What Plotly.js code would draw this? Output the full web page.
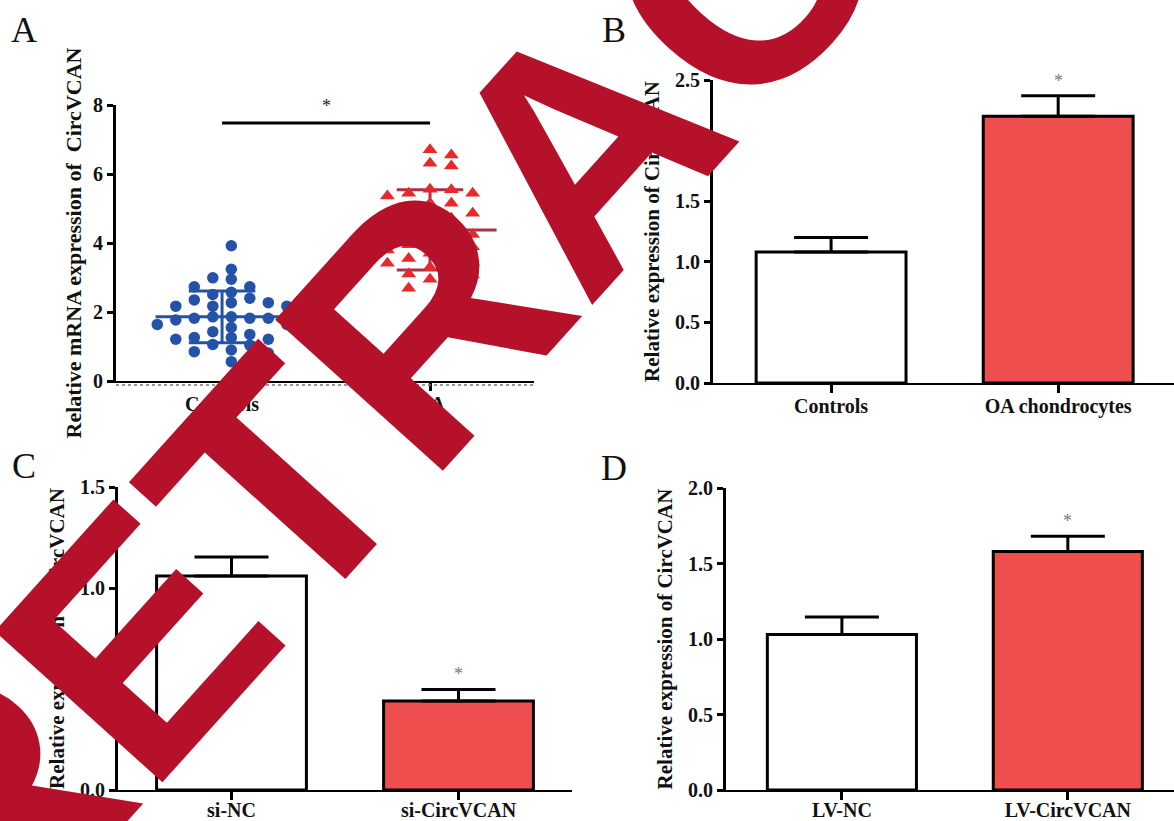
<!DOCTYPE html>
<html><head><meta charset="utf-8">
<script src="https://cdn.plot.ly/plotly-3.0.1.min.js"></script>
<style>html,body{margin:0;padding:0;background:#fff}#chart{width:1174px;height:821px}</style>
</head><body><div id="chart"></div>
<script>
// ---------- Panel A: scatter dot plot ----------
const groupsA = ['Controls', 'OA'];
const controlsA = [3.92, 3.24, 2.99, 2.95, 2.73, 2.73, 2.57, 2.51, 2.40, 2.35, 2.27, 2.27, 2.17, 2.17, 2.17,
  1.86, 1.86, 1.82, 1.82, 1.82, 1.77, 1.64, 1.64, 1.55, 1.43, 1.35, 1.26, 1.26, 1.21, 1.21,
  1.06, 1.04, 0.90, 0.85, 0.81, 0.56];
const oaA = [6.70, 6.55, 6.31, 6.23, 5.56, 5.54, 5.44, 5.44, 5.36, 5.15, 5.15, 4.91, 4.86, 4.72, 4.72,
  4.55, 4.40, 4.38, 4.25, 4.10, 4.00, 3.95, 3.89, 3.80, 3.70, 3.60, 3.55, 3.45, 3.41, 3.30,
  3.20, 3.10, 3.07, 2.95, 2.80, 2.69];
const meanA = [1.86, 4.38];
const sdA = [0.75, 1.16];
const sigLevelA = 7.48;

// ---------- Panel B ----------
const catsB = ['Controls', 'OA chondrocytes'];
const valsB = [1.08, 2.20];
const errB = [0.12, 0.17];

// ---------- Panel C ----------
const catsC = ['si-NC', 'si-CircVCAN'];
const valsC = [1.06, 0.44];
const errC = [0.094, 0.058];

// ---------- Panel D ----------
const catsD = ['LV-NC', 'LV-CircVCAN'];
const valsD = [1.03, 1.58];
const errD = [0.115, 0.10];

const W = 1174, H = 821;
const RED = '#EE4E4E', BLUE = '#2352A8', TRI = '#E8292B', DARKRED = '#A8324A', WM = '#B5112B';
const serif = 'Liberation Serif, Times New Roman, serif';

// Beeswarm: place points into columns nearest the centre without vertical overlap
function swarmX(vals, center, colW, phase, minDy) {
  const cand = [];
  for (let i = -8; i <= 8; i++) cand.push(phase + i);
  cand.sort((a, b) => Math.abs(a) - Math.abs(b) || b - a);
  const used = {};
  const order = vals.map((v, i) => i).sort((a, b) => vals[b] - vals[a]);
  const xs = new Array(vals.length);
  order.forEach(i => {
    const v = vals[i];
    for (const c of cand) {
      const key = c.toFixed(2);
      const list = used[key] || (used[key] = []);
      if (list.every(y => Math.abs(y - v) >= minDy)) { list.push(v); xs[i] = center + c * colW; break; }
    }
  });
  return xs;
}

const traces = [];
// mean +/- SD lines for panel A
const lineCol = [BLUE, DARKRED];
[0, 1].forEach(g => {
  const m = meanA[g], s = sdA[g];
  traces.push({
    type: 'scatter', mode: 'lines', xaxis: 'x', yaxis: 'y', hoverinfo: 'skip', showlegend: false,
    x: [g - 0.32, g + 0.32, null, g - 0.16, g + 0.16, null, g - 0.16, g + 0.16, null, g, g],
    y: [m, m, null, m + s, m + s, null, m - s, m - s, null, m - s, m + s],
    line: {color: lineCol[g], width: 3}
  });
});
traces.push({
  type: 'scatter', mode: 'markers', xaxis: 'x', yaxis: 'y', showlegend: false, name: groupsA[0],
  x: swarmX(controlsA, 0, 0.089, 0.5, 0.29), y: controlsA,
  marker: {symbol: 'circle', size: 11.5, color: BLUE}
});
traces.push({
  type: 'scatter', mode: 'markers', xaxis: 'x', yaxis: 'y', showlegend: false, name: groupsA[1],
  x: swarmX(oaA, 1, 0.1025, 0, 0.30), y: oaA,
  marker: {symbol: 'triangle-up', size: 13, color: TRI}
});

function barTrace(cats, vals, errs, xa, ya) {
  return {
    type: 'bar', xaxis: xa, yaxis: ya, showlegend: false,
    x: cats.map((c, i) => i), y: vals, width: 0.66,
    marker: {color: ['#FFFFFF', RED], line: {color: '#000', width: 3}},
    error_y: {type: 'data', symmetric: false, array: errs, arrayminus: errs.map(() => 0),
      color: '#000', thickness: 3, width: 37}
  };
}
traces.push(barTrace(catsB, valsB, errB, 'x2', 'y2'));
traces.push(barTrace(catsC, valsC, errC, 'x3', 'y3'));
traces.push(barTrace(catsD, valsD, errD, 'x4', 'y4'));

const tickFont = {family: serif, size: 20, color: '#111', weight: 'bold'};
const titleFont = {family: serif, size: 21, color: '#111', weight: 'bold'};

function xAx(px0, px1, range, cats, anchor, standoff) {
  return {domain: [px0 / W, px1 / W], anchor: anchor, range: range, tickvals: cats.map((c, i) => i), ticktext: cats,
    showline: true, linecolor: '#000', linewidth: 2, ticks: 'outside', ticklen: 8, tickwidth: 3, tickcolor: '#000',
    ticklabelstandoff: standoff,
    showgrid: false, zeroline: false, tickfont: tickFont, fixedrange: true};
}
function yAx(py0, py1, range, dtick, fmt, title, tsize, anchor, standoff) {
  const t = {text: title, font: Object.assign({}, titleFont, {size: tsize})};
  if (standoff !== undefined) t.standoff = standoff;
  return {domain: [1 - py1 / H, 1 - py0 / H], anchor: anchor, range: range, dtick: dtick, tick0: 0, tickformat: fmt,
    showline: true, linecolor: '#000', linewidth: 3, ticks: 'outside', ticklen: 6, tickwidth: 3, tickcolor: '#000',
    showgrid: false, zeroline: false, tickfont: tickFont, title: t, fixedrange: true};
}

const annotations = [];
[['A', 24, 30], ['B', 614, 30], ['C', 24, 466], ['D', 614, 468]].forEach(l => {
  annotations.push({xref: 'paper', yref: 'paper', x: l[1] / W, y: 1 - l[2] / H, text: l[0], showarrow: false,
    xanchor: 'center', yanchor: 'middle', font: {family: serif, size: 36, color: '#111'}});
});
// significance stars
annotations.push({xref: 'x', yref: 'y', x: 0.5, y: sigLevelA, text: '*', showarrow: false, yanchor: 'middle', yshift: 17,
  font: {family: serif, size: 18, color: '#222'}});
[[valsB, errB, 'x2', 'y2'], [valsC, errC, 'x3', 'y3'], [valsD, errD, 'x4', 'y4']].forEach(p => {
  annotations.push({xref: p[2], yref: p[3], x: 1, y: p[0][1] + p[1][1], text: '*', showarrow: false, yanchor: 'middle', yshift: 15,
    font: {family: serif, size: 18, color: '#777'}});
});
// RETRACTED watermark (drawn last so it sits above everything)
annotations.push({xref: 'paper', yref: 'paper', x: 581 / W, y: 1 - 147 / H, text: 'RETRACTED', showarrow: false,
  xanchor: 'center', yanchor: 'middle', textangle: -48,
  font: {family: 'Liberation Sans, Arial, sans-serif', size: 328, color: WM, weight: 'bold'}});

const layout = {
  width: W, height: H, margin: {l: 0, r: 0, t: 0, b: 0},
  paper_bgcolor: '#fff', plot_bgcolor: 'rgba(0,0,0,0)', showlegend: false, bargap: 0,
  xaxis: xAx(116, 534, [-0.51, 1.5], groupsA, 'y', -4),
  yaxis: yAx(105, 381, [0, 8], 2, 'd', 'Relative mRNA expression of \u00a0CircVCAN', 22, 'x', 6),
  xaxis2: xAx(713, 1174, [-0.52, 1.51], catsB, 'y2', -4),
  yaxis2: yAx(80, 383, [0, 2.5], 0.5, '.1f', 'Relative expression of CircVCAN', 21, 'x2'),
  xaxis3: xAx(118, 572, [-0.5, 1.5], catsC, 'y3', -7),
  yaxis3: yAx(487, 790, [0, 1.5], 0.5, '.1f', 'Relative expression of CircVCAN', 21, 'x3'),
  xaxis4: xAx(726, 1174, [-0.513, 1.47], catsD, 'y4', -7),
  yaxis4: yAx(488, 790, [0, 2.0], 0.5, '.1f', 'Relative expression of CircVCAN', 21, 'x4'),
  shapes: [
    {type: 'line', xref: 'x', yref: 'y', x0: 0, x1: 1, y0: sigLevelA, y1: sigLevelA, line: {color: '#000', width: 3}},
    // faint dotted rule just beneath panel A's baseline
    {type: 'line', xref: 'paper', yref: 'paper', y0: 1 - 385 / H, y1: 1 - 385 / H,
      x0: 116 / W, x1: 534 / W, line: {color: '#777', width: 1.5, dash: 'dot'}}
  ],
  annotations: annotations
};

Plotly.newPlot('chart', traces, layout, {staticPlot: true, displayModeBar: false});
</script>
</body></html>
